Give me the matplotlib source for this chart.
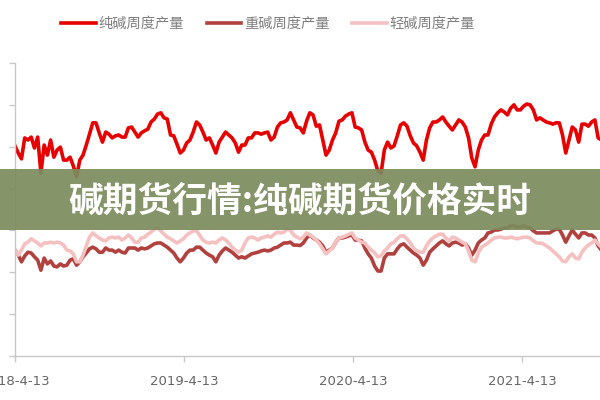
import matplotlib
matplotlib.use('Agg')
import matplotlib.pyplot as plt
import pandas as pd

plt.rcParams['font.family'] = ['Noto Sans CJK SC', 'DejaVu Sans']

# weekly output (10k t), weeks from 2018-4-13
start_date = '2018-04-13'

pure = [50.2, 48.5, 47.1, 52.1, 51.6, 52.3, 49.7, 52.3, 43.7, 50.4,
        48.0, 51.6, 47.5, 49.2, 49.9, 46.8, 46.8, 47.5, 45.4, 42.8,
        46.8, 48.0, 50.4, 53.0, 55.7, 55.7, 53.3, 51.1, 53.5, 53.0,
        52.1, 52.6, 52.8, 52.3, 52.3, 54.5, 54.7, 53.5, 52.3, 53.3,
        53.8, 54.2, 55.9, 56.6, 57.8, 58.1, 56.9, 56.6, 52.8, 52.6,
        50.6, 48.5, 49.2, 50.9, 51.6, 53.5, 55.9, 55.2, 53.5, 51.6,
        52.1, 50.4, 48.5, 51.1, 52.3, 53.5, 52.8, 52.1, 50.9, 48.7,
        50.4, 50.4, 52.1, 52.1, 53.3, 53.3, 53.0, 53.3, 53.5, 51.6,
        52.3, 54.7, 55.7, 55.9, 56.4, 58.1, 56.4, 54.7, 54.5, 53.3,
        56.1, 58.1, 57.6, 54.9, 55.2, 51.6, 48.0, 49.2, 51.6, 53.3,
        56.1, 56.4, 57.3, 57.8, 58.1, 54.7, 54.5, 54.0, 51.1, 49.2,
        48.7, 46.8, 44.2, 43.7, 49.2, 51.1, 49.7, 50.2, 52.6, 55.2,
        55.7, 54.9, 52.6, 50.9, 50.2, 48.7, 46.8, 51.6, 54.5, 55.9,
        55.9, 56.4, 57.1, 55.9, 54.9, 54.0, 55.2, 56.4, 55.9, 54.7,
        52.1, 47.3, 45.2, 49.2, 51.6, 52.8, 52.8, 55.4, 57.1, 58.1,
        58.8, 58.3, 57.6, 59.2, 60.0, 58.8, 58.8, 59.7, 60.2, 60.0,
        58.8, 56.4, 56.9, 56.4, 55.9, 55.7, 55.4, 55.7, 55.7, 52.8,
        48.5, 51.6, 54.7, 54.0, 51.1, 55.4, 55.4, 54.9, 55.9, 56.4,
        52.1, 51.6]

heavy = [25.3, 24.1, 22.5, 23.9, 24.8, 24.6, 23.7, 22.9, 20.5, 23.4,
         22.0, 22.7, 21.5, 21.3, 22.0, 21.5, 21.7, 22.9, 23.2, 21.7,
         22.5, 23.7, 24.6, 25.6, 26.0, 25.6, 24.8, 24.8, 25.8, 25.3,
         25.3, 24.8, 25.3, 24.8, 24.6, 25.8, 25.8, 25.8, 25.3, 25.8,
         25.6, 25.8, 26.3, 26.8, 27.0, 27.0, 26.5, 26.0, 25.3, 24.6,
         23.4, 22.5, 23.4, 24.6, 25.3, 25.3, 26.0, 26.0, 25.3, 24.6,
         24.1, 23.7, 22.5, 24.1, 25.1, 25.8, 25.3, 24.8, 24.1, 23.4,
         23.7, 23.4, 23.9, 24.4, 24.6, 24.8, 25.1, 25.3, 25.1, 25.3,
         25.8, 26.0, 26.5, 27.0, 27.0, 27.2, 26.5, 26.5, 26.4, 27.0,
         28.2, 28.9, 28.2, 27.7, 27.2, 26.3, 24.8, 25.3, 25.8, 27.2,
         28.2, 28.2, 28.4, 28.7, 28.9, 27.7, 27.7, 27.5, 25.8, 24.4,
         23.4, 21.5, 20.3, 20.3, 23.4, 24.4, 24.4, 24.4, 25.6, 26.5,
         26.8, 26.0, 25.3, 24.6, 24.1, 23.4, 21.7, 22.9, 24.8, 25.6,
         26.3, 27.0, 27.5, 26.8, 26.3, 27.0, 27.2, 27.0, 26.5, 26.8,
         25.8, 24.1, 25.3, 27.0, 27.7, 28.2, 29.4, 29.6, 30.1, 30.1,
         30.3, 30.6, 30.6, 31.1, 31.1, 30.8, 30.8, 31.1, 30.8, 30.6,
         29.9, 29.4, 29.4, 29.4, 29.4, 29.4, 29.9, 30.3, 30.3, 28.9,
         27.2, 28.7, 30.1, 29.1, 28.2, 29.4, 29.4, 28.9, 28.9, 28.2,
         26.3, 25.3]

light = [25.3, 24.1, 25.3, 26.8, 27.2, 28.0, 27.5, 27.0, 26.3, 27.0,
         27.0, 27.2, 27.0, 27.2, 27.0, 26.5, 25.3, 25.1, 24.4, 22.5,
         22.5, 24.1, 26.3, 28.4, 29.4, 28.7, 28.2, 27.7, 27.5, 28.2,
         28.4, 28.2, 28.4, 27.7, 28.2, 28.9, 28.2, 27.2, 27.2, 28.2,
         28.4, 29.1, 29.6, 30.3, 30.6, 29.9, 29.1, 28.4, 28.0, 27.5,
         27.0, 27.5, 28.0, 28.9, 29.4, 29.9, 29.9, 28.9, 27.7, 27.2,
         27.0, 27.2, 27.0, 27.7, 28.2, 27.7, 27.0, 26.0, 25.3, 24.8,
         25.3, 27.0, 28.2, 28.4, 28.2, 27.7, 28.2, 28.4, 28.7, 28.4,
         29.1, 29.6, 29.4, 29.6, 30.3, 30.1, 28.9, 28.4, 28.0, 28.4,
         29.4, 28.9, 28.4, 27.7, 26.8, 25.6, 24.4, 25.1, 25.8, 27.2,
         28.2, 28.4, 28.7, 29.1, 29.4, 28.2, 27.7, 27.2, 27.0, 26.0,
         25.3, 24.6, 23.7, 23.9, 25.1, 25.8, 26.8, 27.2, 28.0, 28.7,
         28.7, 28.0, 27.0, 25.8, 25.1, 24.8, 24.8, 26.3, 27.5, 28.2,
         28.7, 29.1, 29.1, 28.2, 27.5, 28.4, 28.2, 27.7, 27.2, 26.8,
         25.1, 22.9, 22.5, 24.6, 26.0, 26.5, 27.0, 27.7, 28.2, 28.4,
         28.4, 28.2, 28.2, 28.4, 28.2, 28.0, 28.2, 28.4, 28.4, 28.2,
         27.5, 27.0, 27.0, 26.8, 26.3, 25.8, 25.1, 24.4, 23.7, 22.7,
         22.5, 23.7, 24.4, 23.4, 23.2, 24.8, 25.8, 26.5, 27.0, 27.7,
         26.8, 26.0]

names = ['纯碱周度产量', '重碱周度产量', '轻碱周度产量']
colors = ['#E60000', '#B0413F', '#F5C0C0']
tick_dates = ['2018-04-13', '2019-04-13', '2020-04-13', '2021-04-13']
tick_labels = ['2018-4-13', '2019-4-13', '2020-4-13', '2021-4-13']
banner_text = '碱期货行情:纯碱期货价格实时'

dates = pd.date_range(start_date, periods=len(pure), freq='7D')

fig = plt.figure(figsize=(6, 4), dpi=100)
ax = fig.add_axes([0.025, 0.11, 0.975, 0.7325])

for series, name, col in zip([pure, heavy, light], names, colors):
    ax.plot(dates, series, color=col, linewidth=2.6, label=name,
            solid_joinstyle='round')

ax.set_ylim(0, 70)
ax.set_yticks(range(0, 71, 10))
ax.set_yticklabels([])
ax.set_xlim(pd.Timestamp(start_date), pd.Timestamp(start_date) + pd.Timedelta(days=1264))
ax.set_xticks([pd.Timestamp(d) for d in tick_dates])
ax.set_xticklabels(tick_labels, fontsize=9.5, color='#666666', family='DejaVu Sans')

for side in ['top', 'right']:
    ax.spines[side].set_visible(False)
for side in ['left', 'bottom']:
    ax.spines[side].set_color('#c8c8c8')
    ax.spines[side].set_linewidth(1.0)
ax.tick_params(axis='both', length=4, width=1, color='#c8c8c8')
ax.tick_params(axis='x', pad=10)

fig.legend(loc='center', bbox_to_anchor=(0.447, 0.94), ncol=3, frameon=False,
           fontsize=10.3, handlelength=2.4, handletextpad=0.2, columnspacing=1.6,
           labelcolor='#7f7f7f')

# banner across the middle
fig.patches.append(plt.Rectangle((0, 170 / 400), 1, 61 / 400, transform=fig.transFigure,
                                 facecolor='#7D8C5F', alpha=0.93, zorder=5))
fig.text(0.5, 1 - 201 / 400, banner_text, ha='center', va='center', color='white',
         fontsize=25, fontweight='black', zorder=6)

plt.savefig('out.png', dpi=100)
